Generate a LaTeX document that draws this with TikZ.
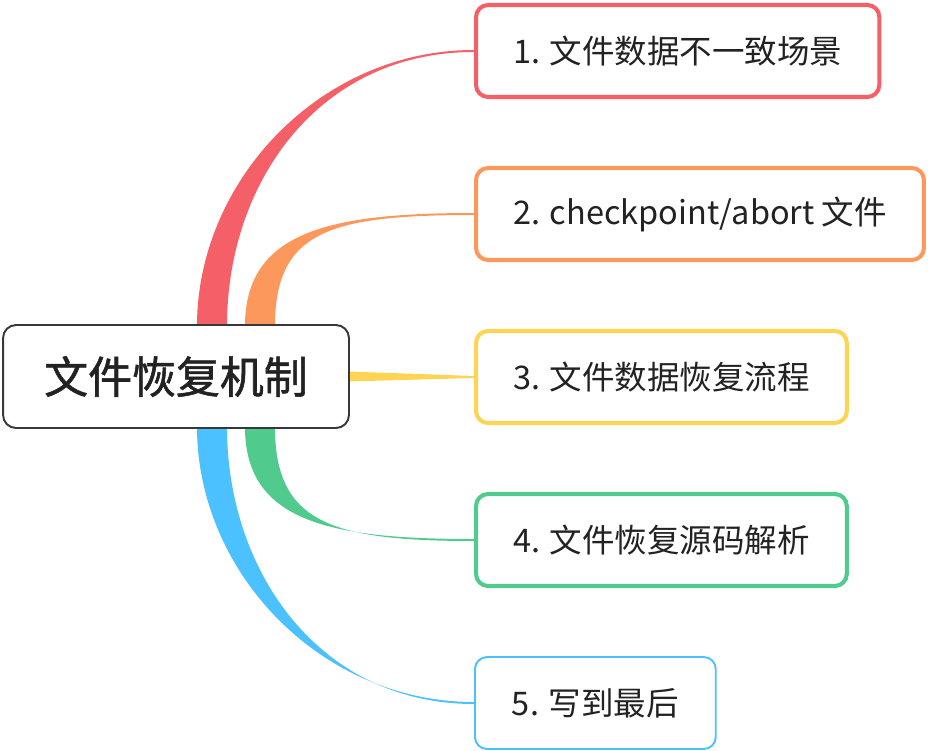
\documentclass[tikz,border=0pt]{standalone}
\usepackage{fontspec}
\setmainfont{Noto Sans CJK SC}
\newfontfamily\rootfont[FakeBold=1.3]{Noto Sans CJK SC}
\usetikzlibrary{calc,backgrounds}

\definecolor{redc}{RGB}{245,96,104}
\definecolor{orangec}{RGB}{253,152,92}
\definecolor{yellowc}{RGB}{255,212,84}
\definecolor{greenc}{RGB}{80,203,141}
\definecolor{bluec}{RGB}{76,193,255}
\definecolor{textc}{RGB}{34,34,34}

\tikzset{
  rootbox/.style={draw=black!78,line width=1.1pt,fill=white,rounded corners=0.26cm,
    minimum width=6.92cm,minimum height=2.06cm,text=textc,font=\rootfont\fontsize{25}{30}\selectfont},
  topicbox/.style={draw=#1,line width=2.3pt,fill=white,rounded corners=0.24cm,anchor=west,
    minimum height=1.84cm,inner xsep=0.74cm,text=textc,font=\fontsize{18.5}{22}\selectfont},
}

% tapered branch: colour, start, end, vertical pull, horizontal pull
\newcommand{\branch}[5]{%
  \fill[#1] ($(#2)+(-15,0)$) .. controls ($(#2)+(-15,#4)$) and ($(#3)+(-#5,-1)$) .. ($(#3)+(0,-1)$)
    -- ($(#3)+(0,1)$) .. controls ($(#3)+(-#5,1)$) and ($(#2)+(15,#4)$) .. ($(#2)+(15,0)$) -- cycle;}

\begin{document}
\begin{tikzpicture}[x=0.02cm,y=-0.02cm]
    \useasboundingbox (0,0) rectangle (932,750);

    % central topic
    \node[rootbox] (root) at (176,376.5) {文件恢复机制};

    % subtopics
    \node[topicbox=redc] (c1) at (474,51) {1. 文件数据不一致场景};
    \node[topicbox=orangec] (c2) at (474,214) {2. checkpoint/abort 文件};
    \node[topicbox=yellowc] (c3) at (474,377) {3. 文件数据恢复流程};
    \node[topicbox=greenc] (c4) at (474,540) {4. 文件恢复源码解析};
    \node[topicbox=bluec,line width=1.1pt] (c5) at (474,703) {5. 写到最后};

    % start points on the central topic
    \coordinate (r1) at ($(root.north)+(36,2)$);
    \coordinate (r2) at ($(root.north)+(84,2)$);
    \coordinate (r4) at ($(root.south)+(84,-2)$);
    \coordinate (r5) at ($(root.south)+(36,-2)$);

    % branches
    \begin{pgfonlayer}{background}
      \branch{redc}{r1}{c1.west}{-145}{154}
      \branch{orangec}{r2}{c2.west}{-95}{144}
      \branch{greenc}{r4}{c4.west}{95}{144}
      \branch{bluec}{r5}{c5.west}{145}{154}
      \fill[yellowc] ($(root.east)+(-2,-5)$) -- ($(c3.west)+(0,-1)$)
        -- ($(c3.west)+(0,1)$) -- ($(root.east)+(-2,5)$) -- cycle;
    \end{pgfonlayer}
\end{tikzpicture}
\end{document}
